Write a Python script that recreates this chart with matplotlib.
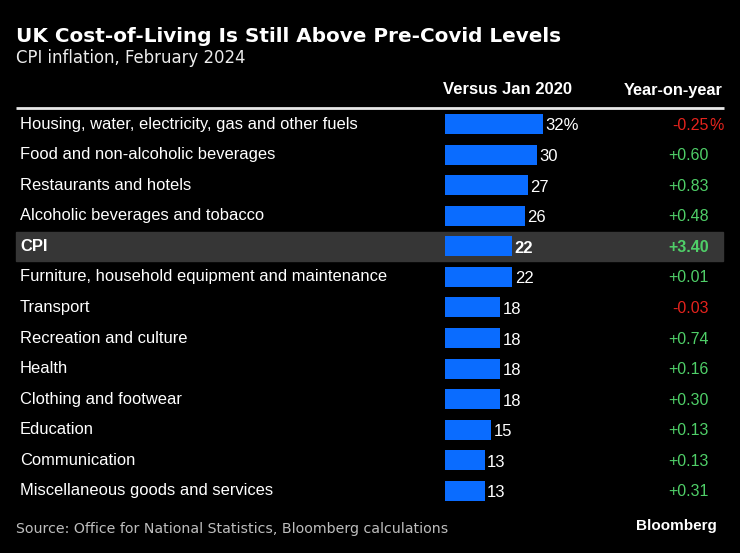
import numpy as np
import matplotlib.pyplot as plt

categories = ['Housing, water, electricity, gas and other fuels',
              'Food and non-alcoholic beverages',
              'Restaurants and hotels',
              'Alcoholic beverages and tobacco',
              'CPI',
              'Furniture, household equipment and maintenance',
              'Transport',
              'Recreation and culture',
              'Health',
              'Clothing and footwear',
              'Education',
              'Communication',
              'Miscellaneous goods and services']
vs_jan2020 = [32, 30, 27, 26, 22, 22, 18, 18, 18, 18, 15, 13, 13]
yoy = [-0.25, 0.60, 0.83, 0.48, 3.40, 0.01, -0.03, 0.74, 0.16, 0.30, 0.13, 0.13, 0.31]

bg = 'black'
fg = '#ececec'
blue = '#0a6cff'
green = '#4fcf68'
red = '#e5231d'

plt.rcParams['font.family'] = ['Liberation Sans', 'DejaVu Sans']

fig = plt.figure(figsize=(7.4, 5.53), dpi=100, facecolor=bg)

# overlay axes in pixel units
ax = fig.add_axes([0, 0, 1, 1])
ax.set_xlim(0, 740)
ax.set_ylim(553, 0)
ax.axis('off')

row_y = 124 + 30.58 * np.arange(len(categories))

ax.text(16, 36, 'UK Cost-of-Living Is Still Above Pre-Covid Levels', color='white',
        fontsize=14.4, fontweight='bold', va='center', family='DejaVu Sans')
ax.text(16, 58, 'CPI inflation, February 2024', color=fg, fontsize=11.9, va='center',
        family='DejaVu Sans')

ax.text(443, 90, 'Versus Jan 2020', color='white', fontsize=12, fontweight='bold', va='center')
ax.text(723, 90, 'Year-on-year', color='white', fontsize=11.8, fontweight='bold', va='center', ha='right')
ax.plot([16, 724], [107.5, 107.5], color='#e8e8e8', lw=2, solid_capstyle='butt')

for i, (cat, v, d) in enumerate(zip(categories, vs_jan2020, yoy)):
    y = row_y[i]
    bold = cat == 'CPI'
    if bold:
        ax.add_patch(plt.Rectangle((16, y - 14.5), 707, 29, color='#363636', zorder=0))
    ax.text(20, y, cat, color='white', fontsize=11.9, va='center',
            fontweight='bold' if bold else 'normal')
    col = red if d < 0 else green
    ax.text(709, y + 1, f'{d:+.2f}', color=col, fontsize=11.5, va='center', ha='right',
            fontweight='bold' if bold else 'normal')
    if i == 0:
        ax.text(709, y + 1, '%', color=col, fontsize=11.5, va='center', ha='left')

# bars
bax = fig.add_axes([445 / 740, 0, 122.4 / 740, 1])
bax.set_xlim(0, 40)
bax.set_ylim(553, 0)
bax.axis('off')
bax.patch.set_alpha(0)
bax.barh(row_y, vs_jan2020, height=20, color=blue, left=0)
for i, v in enumerate(vs_jan2020):
    lab = f'{v}%' if i == 0 else f'{v}'
    bax.text(v + 0.8, row_y[i] + 2, lab, color='white', fontsize=12, va='center', ha='left',
             fontweight='bold' if categories[i] == 'CPI' else 'normal', clip_on=False)

ax.text(16, 529, 'Source: Office for National Statistics, Bloomberg calculations', color='#bdbdbd',
        fontsize=10.2, va='center', family='DejaVu Sans')
ax.text(717, 526, 'Bloomberg', color='white', fontsize=11, fontweight='bold', va='center', ha='right')

plt.savefig('out.png', dpi=100, facecolor=bg)
